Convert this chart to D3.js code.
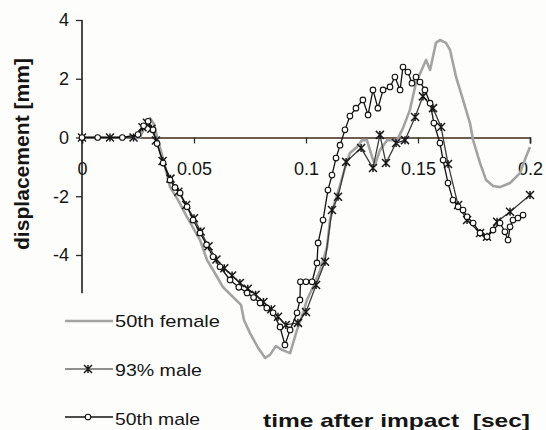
<!DOCTYPE html>
<html>
<head>
<meta charset="utf-8">
<script src="https://cdn.jsdelivr.net/npm/d3@7"></script>
<style>
  html, body { margin: 0; padding: 0; background: #fdfdfb; }
  svg { display: block; }
  text { font-family: "Liberation Sans", Arial, sans-serif; fill: #151515; white-space: pre; }
</style>
</head>
<body>
<svg id="chart" width="546" height="430"></svg>
<script>
// ---- data (time [s], displacement [mm]) ----
const female50 = [
  [0,0],[0.0259,0],[0.0281,0.39],[0.0304,0.66],[0.0321,0.46],[0.0339,-0.09],[0.0366,-0.83],
  [0.0393,-1.69],[0.0429,-2.13],[0.0469,-2.71],[0.0527,-3.49],[0.0558,-4.17],[0.0585,-4.51],
  [0.0629,-5.09],[0.0674,-5.43],[0.071,-5.7],[0.0723,-6.21],[0.075,-6.66],[0.0786,-7.16],
  [0.0817,-7.5],[0.0839,-7.4],[0.0866,-7.1],[0.0893,-7.23],[0.0929,-7.34],[0.096,-6.55],
  [0.0987,-5.97],[0.1004,-5.53],[0.1031,-5.09],[0.1063,-4.51],[0.1094,-3.73],[0.1107,-2.81],
  [0.1125,-2.3],[0.1152,-1.62],[0.1174,-1.04],[0.1196,-0.53],[0.1228,-0.32],[0.125,-0.09],
  [0.1272,-0.09],[0.1295,-0.66],[0.1308,-0.94],[0.133,-0.43],[0.1362,-0.09],[0.1406,-0.09],
  [0.1433,0.32],[0.1464,0.94],[0.1491,1.86],[0.1522,2.4],[0.1536,2.64],[0.1554,2.3],
  [0.158,3.22],[0.1598,3.32],[0.1625,3.22],[0.1643,2.98],[0.167,2.06],[0.1701,1.28],
  [0.1732,0.49],[0.1746,-0.09],[0.1777,-0.87],[0.1804,-1.45],[0.1835,-1.65],[0.1866,-1.69],
  [0.1911,-1.55],[0.1955,-1.21],[0.1982,-0.66],[0.2,-0.32]
];
const male93 = [
  [0,0],[0.0125,0],[0.023,0],[0.027,0.35],[0.029,0.5],[0.031,0.3],[0.033,-0.1],[0.036,-0.8],
  [0.0395,-1.4],[0.043,-1.85],[0.0465,-2.3],[0.05,-2.75],[0.053,-3.2],[0.0565,-3.7],[0.06,-4.15],
  [0.0635,-4.45],[0.067,-4.7],[0.0705,-4.95],[0.074,-5.15],[0.0775,-5.35],[0.081,-5.6],
  [0.0845,-5.85],[0.0875,-6.1],[0.091,-6.38],[0.0964,-6.31],[0.1,-5.94],[0.1045,-5.02],
  [0.1085,-4.23],[0.1116,-2.47],[0.1143,-2.02],[0.1179,-0.83],[0.1246,-0.36],[0.1299,-1.04],
  [0.133,0.09],[0.1357,-0.87],[0.1402,-0.19],[0.1442,-0.09],[0.1487,0.7],[0.1522,1.4],
  [0.1567,1.0],[0.1603,0.36],[0.1634,-0.9],[0.1679,-2.3],[0.1719,-2.81],[0.1777,-3.25],
  [0.1808,-3.38],[0.1853,-2.87],[0.1911,-2.53],[0.2,-1.96]
];
const male50 = [
  [0,0],[0.007,0],[0.018,0],[0.025,0.1],[0.0275,0.4],[0.0295,0.55],[0.0317,0.26],[0.0335,-0.2],
  [0.0362,-0.87],[0.0393,-1.45],[0.0415,-1.7],[0.0438,-1.89],[0.0469,-2.36],[0.0496,-2.81],
  [0.0527,-3.25],[0.0556,-3.65],[0.0585,-4.06],[0.0616,-4.4],[0.0661,-4.85],[0.07,-5.1],
  [0.0737,-5.29],[0.0766,-5.45],[0.0795,-5.63],[0.0825,-5.8],[0.0853,-5.97],[0.0884,-6.45],
  [0.0906,-7.06],[0.0929,-6.55],[0.096,-5.97],[0.0973,-5.53],[0.0975,-4.91],[0.1,-4.91],
  [0.1027,-4.91],[0.1049,-4.27],[0.1054,-3.59],[0.1076,-2.81],[0.1098,-1.79],[0.1116,-1.28],
  [0.1134,-0.7],[0.1152,-0.26],[0.1174,0.26],[0.1196,0.73],[0.1223,1.0],[0.1254,1.28],
  [0.1277,0.77],[0.1299,1.62],[0.1321,1.0],[0.1344,1.62],[0.1375,1.72],[0.1397,2.06],
  [0.142,1.62],[0.1433,2.4],[0.1455,2.23],[0.1473,1.85],[0.1491,2.06],[0.1509,1.89],
  [0.1531,1.62],[0.1554,1.17],[0.1571,0.49],[0.1598,-0.19],[0.1612,-0.77],[0.1634,-1.55],
  [0.1656,-2.13],[0.1679,-2.36],[0.1701,-2.47],[0.1719,-2.7],[0.1746,-2.91],[0.1777,-3.25],
  [0.1808,-3.38],[0.1835,-3.15],[0.1866,-2.91],[0.1888,-3.21],[0.1902,-3.49],[0.1911,-3.04],
  [0.1924,-2.81],[0.1946,-2.74],[0.1969,-2.64]
];
const seriesNames = ["50th female", "93% male", "50th male"];
const xTickValues = [0, 0.05, 0.1, 0.15, 0.2];
const xTickLabels = ["0", "0.05", "0.1", "0.15", "0.2"];
const yTickValues = [4, 2, 0, -2, -4];
const yTickLabels = ["4", "2", "0", "-2", "-4"];
const yAxisBottom = -5.3;
const xTitle = "time after impact\u00A0 [sec]";
const yTitle = "displacement [mm]";

// ---- drawing ----
const svg = d3.select("#chart");
const x = d3.scaleLinear().domain([0, 0.2]).range([82, 530]);
const y = d3.scaleLinear().domain([0, 4]).range([137.5, 20]);

// axes
const xAxis = svg.append("g").attr("transform", `translate(0,${y(0)})`)
  .call(d3.axisBottom(x).tickValues(xTickValues).tickSize(6)
    .tickFormat((d, i) => xTickLabels[i]));
xAxis.select(".domain").attr("stroke", "#3b2a1a").attr("stroke-width", 1.6);
xAxis.selectAll(".tick line").attr("stroke", "#2a2a2a").attr("stroke-width", 1.3);
xAxis.selectAll(".tick text").attr("y", 25).attr("font-size", 18)
  .attr("font-family", "Liberation Sans, Arial, sans-serif").attr("fill", "#151515");

const yAxis = svg.append("g").attr("transform", `translate(${x(0)},0)`)
  .call(d3.axisLeft(y).tickValues(yTickValues).tickSize(6).tickPadding(7)
    .tickFormat((d, i) => yTickLabels[i]));
yAxis.select(".domain").remove();
yAxis.append("line").attr("x1", 0).attr("x2", 0)
  .attr("y1", y(4)).attr("y2", y(yAxisBottom))
  .attr("stroke", "#1e1e1e").attr("stroke-width", 1.6);
yAxis.selectAll(".tick line").attr("stroke", "#2a2a2a").attr("stroke-width", 1.3);
yAxis.selectAll(".tick text").attr("font-size", 18)
  .attr("font-family", "Liberation Sans, Arial, sans-serif").attr("fill", "#151515");

// line generator
const line = d3.line().x(d => x(d[0])).y(d => y(d[1]));

const starPath = s => `M${-s},${-s}L${s},${s}M${-s},${s}L${s},${-s}M0,${-s}L0,${s}`;

// 50th female
svg.append("path").datum(female50).attr("d", line)
  .attr("fill", "none").attr("stroke", "#a3a3a3").attr("stroke-width", 2.6)
  .attr("stroke-linejoin", "round");

// 93% male
svg.append("path").datum(male93).attr("d", line)
  .attr("fill", "none").attr("stroke", "#3a3a3a").attr("stroke-width", 1.3);
svg.append("g").selectAll("path").data(male93).join("path")
  .attr("transform", d => `translate(${x(d[0])},${y(d[1])})`)
  .attr("d", starPath(4)).attr("stroke", "#1a1a1a").attr("stroke-width", 1.5).attr("fill", "none");

// 50th male
svg.append("path").datum(male50).attr("d", line)
  .attr("fill", "none").attr("stroke", "#111").attr("stroke-width", 1.3);
svg.append("g").selectAll("circle").data(male50).join("circle")
  .attr("cx", d => x(d[0])).attr("cy", d => y(d[1])).attr("r", 2.8)
  .attr("fill", "#fdfdfb").attr("stroke", "#111").attr("stroke-width", 1.1);

// legend
const leg = svg.append("g");
const legRows = [
  {name: seriesNames[0], ly: 321, ty: 327, tl: 105},
  {name: seriesNames[1], ly: 369, ty: 376, tl: 87},
  {name: seriesNames[2], ly: 417, ty: 425, tl: 85}
];
leg.append("line").attr("x1", 65).attr("x2", 113).attr("y1", legRows[0].ly).attr("y2", legRows[0].ly)
  .attr("stroke", "#a3a3a3").attr("stroke-width", 2.4);
leg.append("line").attr("x1", 65).attr("x2", 113).attr("y1", legRows[1].ly).attr("y2", legRows[1].ly)
  .attr("stroke", "#6a6a6a").attr("stroke-width", 1.6);
leg.append("path").attr("transform", `translate(88,${legRows[1].ly})`).attr("d", starPath(4))
  .attr("stroke", "#1a1a1a").attr("stroke-width", 1.5).attr("fill", "none");
leg.append("line").attr("x1", 65).attr("x2", 113).attr("y1", legRows[2].ly).attr("y2", legRows[2].ly)
  .attr("stroke", "#111").attr("stroke-width", 1.3);
leg.append("circle").attr("cx", 88).attr("cy", legRows[2].ly).attr("r", 2.8)
  .attr("fill", "#fdfdfb").attr("stroke", "#111").attr("stroke-width", 1.1);
leg.selectAll("text").data(legRows).join("text")
  .attr("x", 115).attr("y", d => d.ty).attr("font-size", 17)
  .attr("textLength", d => d.tl).attr("lengthAdjust", "spacingAndGlyphs")
  .text(d => d.name);

// titles
svg.append("text").attr("x", 263).attr("y", 427).attr("font-size", 19).attr("font-weight", "bold")
  .attr("textLength", 267).attr("lengthAdjust", "spacingAndGlyphs").text(xTitle);
svg.append("text").attr("transform", "translate(29,154) rotate(-90)")
  .attr("text-anchor", "middle").attr("font-size", 20).attr("font-weight", "bold")
  .attr("textLength", 192).attr("lengthAdjust", "spacingAndGlyphs").text(yTitle);
</script>
</body>
</html>
